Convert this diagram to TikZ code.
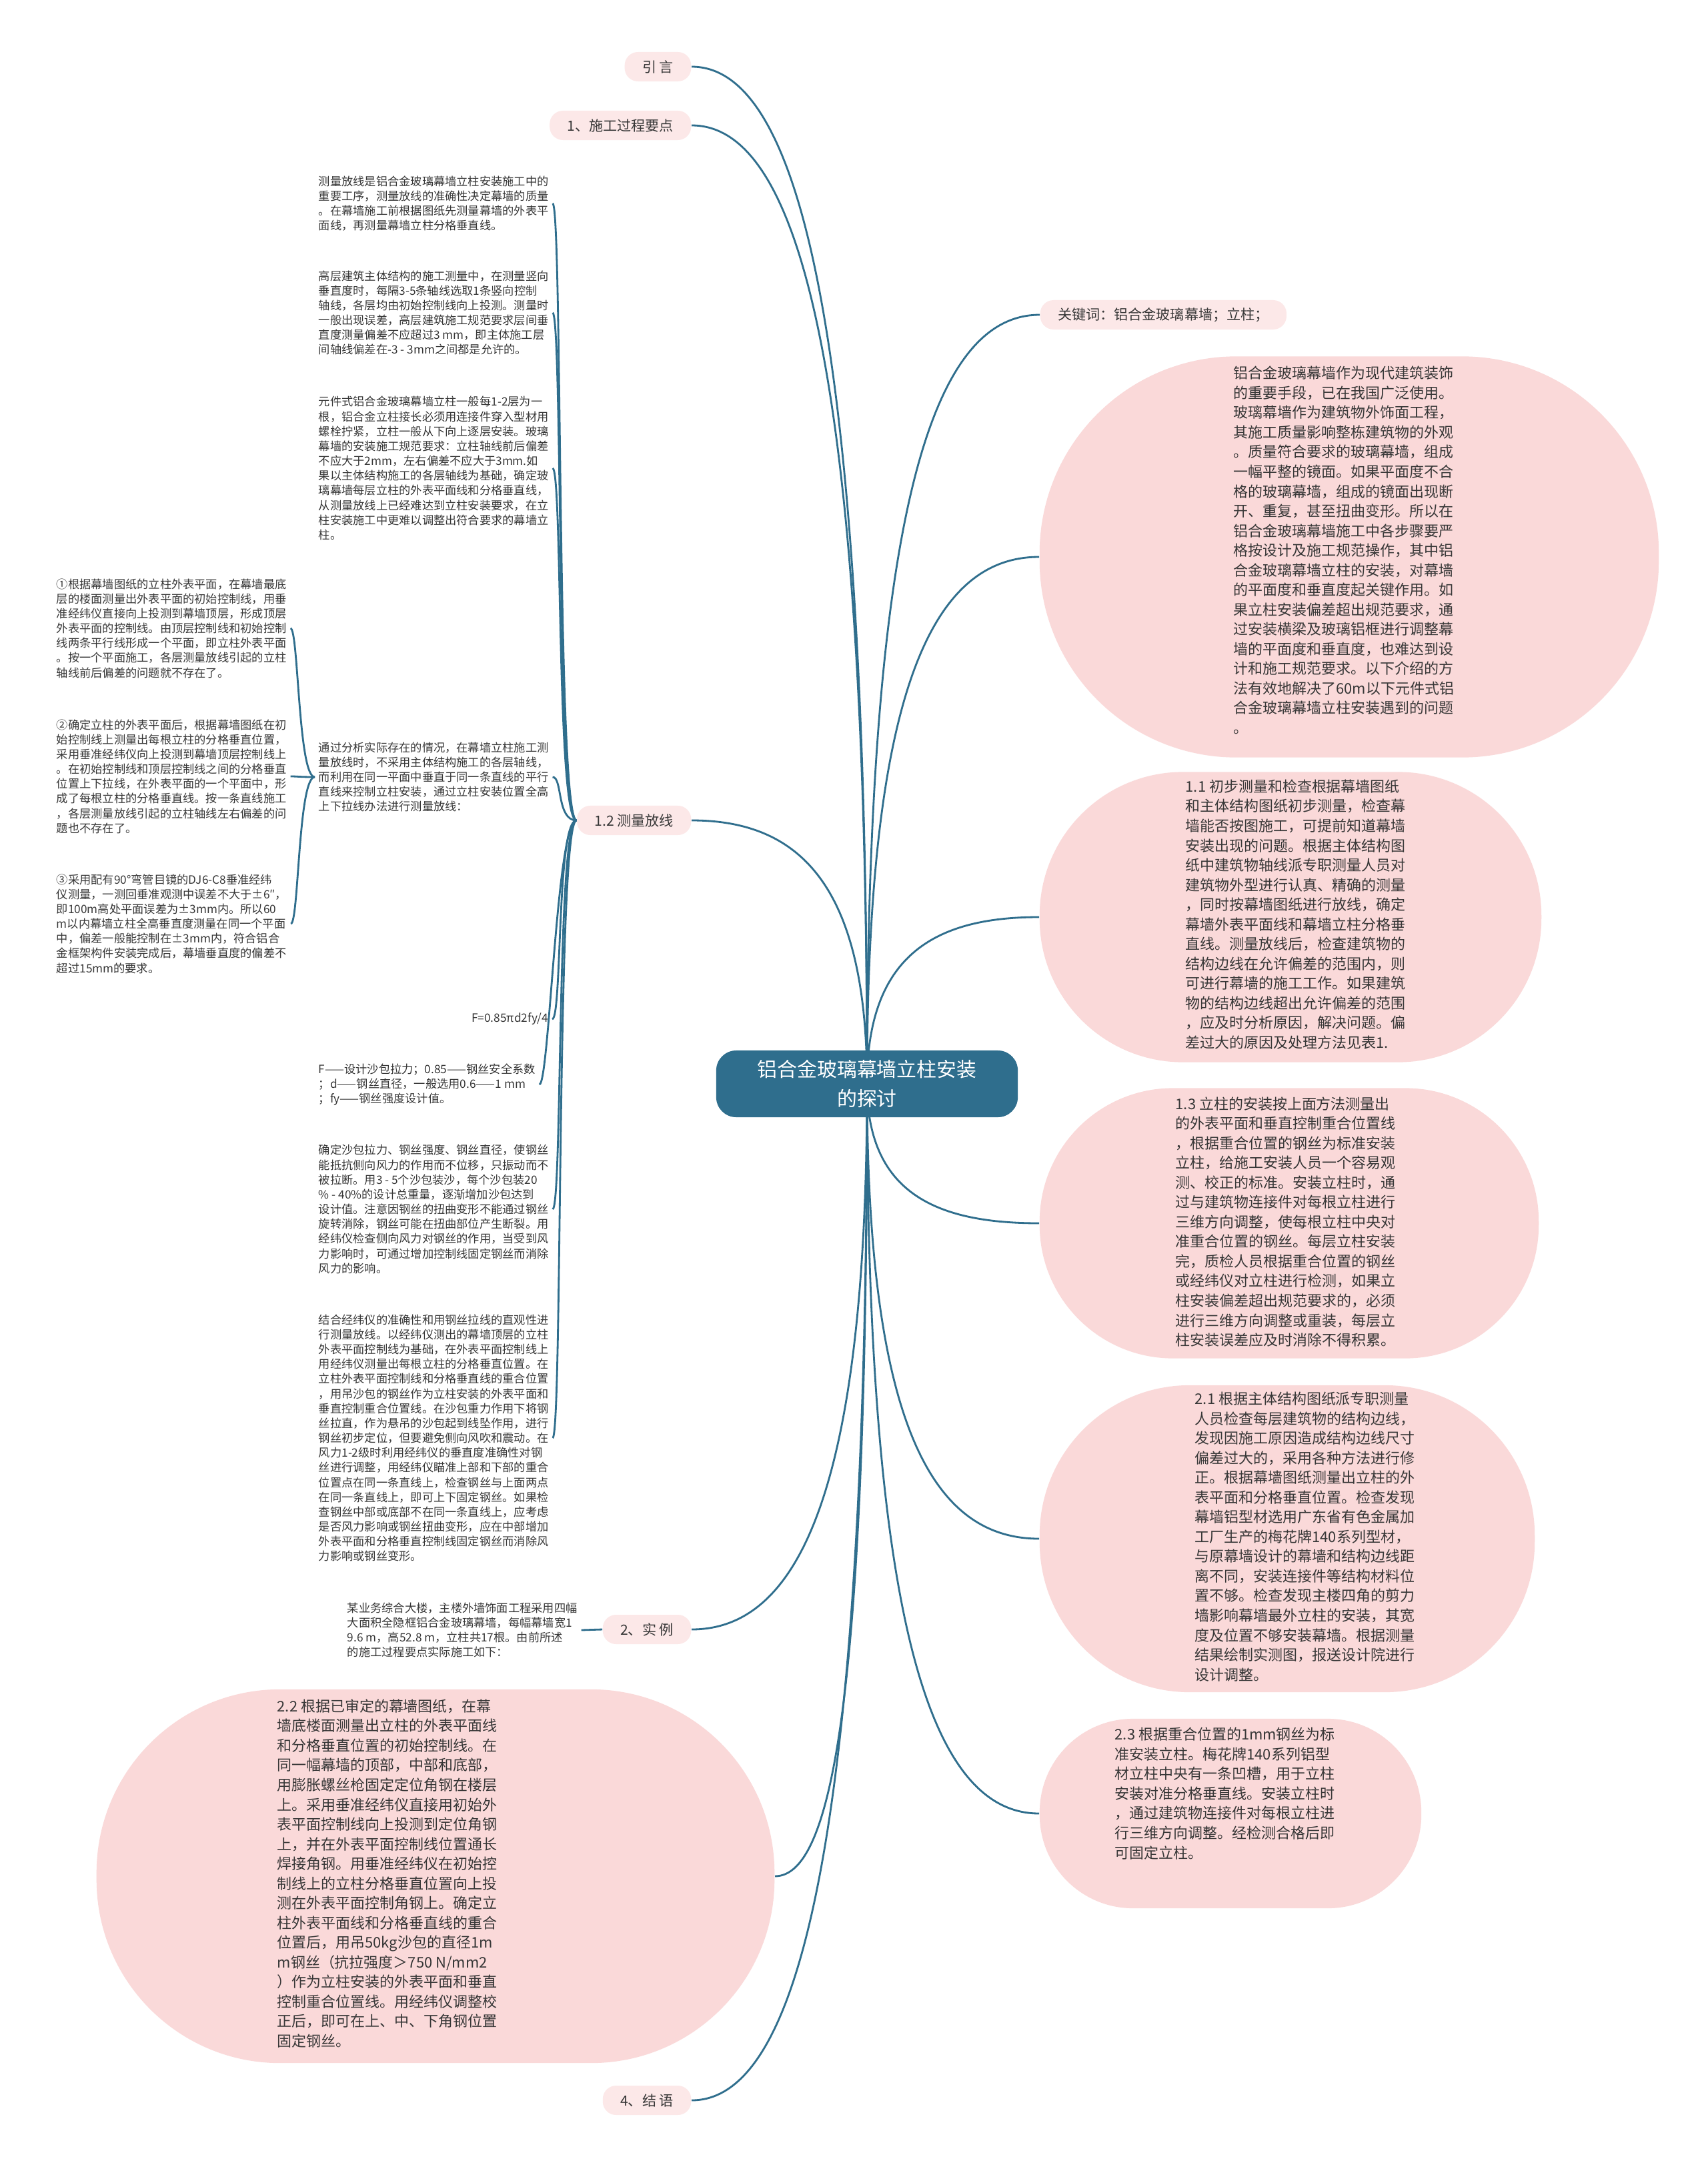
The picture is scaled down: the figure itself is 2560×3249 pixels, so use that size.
\documentclass[tikz,border=0pt]{standalone}
\usepackage{fontspec}
\setmainfont{Noto Sans CJK SC}
\usetikzlibrary{backgrounds}
\definecolor{mapblue}{RGB}{47,110,141}
\definecolor{bubblepink}{RGB}{250,217,217}
\definecolor{tagpink}{RGB}{252,232,232}
\definecolor{inkgray}{RGB}{55,55,55}
\begin{document}
\begin{tikzpicture}[x=0.01cm, y=-0.01cm, line join=round, line cap=round,
  root/.style={fill=mapblue, text=white, rounded corners=3mm, minimum width=4.52cm, minimum height=1cm, align=center, font=\fontsize{8.5pt}{12.4pt}\selectfont},
  tag/.style={fill=tagpink, text=inkgray, rounded corners=2mm, minimum height=0.44cm, inner xsep=7.5pt, inner ysep=0pt, font=\fontsize{6pt}{7pt}\selectfont},
  bubble/.style={fill=bubblepink, rounded corners=#1, inner sep=0pt},
  bubtext/.style={anchor=west, align=left, text=inkgray, inner sep=0pt, font=\fontsize{6.25pt}{8.4pt}\selectfont},
  note/.style={anchor=west, align=left, text=inkgray, inner sep=1.5pt, font=\fontsize{4.9pt}{6.3pt}\selectfont},
  link/.style={draw=mapblue, line width=0.8pt}]
\useasboundingbox (0,0) rectangle (2560,3249);
\node[root] (root) at (1300,1625) {铝合金玻璃幕墙立柱安装\\的探讨};
\node[tag, anchor=east] (yin) at (1037,100) {引 言};
\node[tag, anchor=east] (gyao) at (1037,188) {1、施工过程要点};
\node[tag, anchor=east] (celiang) at (1037,1230) {1.2 测量放线};
\node[tag, anchor=east] (shili) at (1037,2443) {2、实 例};
\node[tag, anchor=east] (jieyu) at (1037,3149) {4、结 语};
\node[tag, anchor=west] (guanjian) at (1559,472) {关键词：铝合金玻璃幕墙；立柱；};
\node[bubble=2.95cm, minimum width=9.28cm, minimum height=6.01cm] (bintro) at (2023,835) {};
\node[bubble=2.15cm, minimum width=7.52cm, minimum height=4.35cm] (b11) at (1935,1375) {};
\node[bubble=2cm, minimum width=7.48cm, minimum height=4.05cm] (b13) at (1933,1834) {};
\node[bubble=2.25cm, minimum width=7.42cm, minimum height=4.6cm] (b21) at (1930,2307) {};
\node[bubble=1.4cm, minimum width=5.72cm, minimum height=2.84cm] (b23) at (1845,2719) {};
\node[bubble=2.75cm, minimum width=10.16cm, minimum height=5.6cm] (b22) at (653,2813) {};
\node[bubtext] (tintro) at (1849,825) {铝合金玻璃幕墙作为现代建筑装饰\\
的重要手段，已在我国广泛使用。\\
玻璃幕墙作为建筑物外饰面工程，\\
其施工质量影响整栋建筑物的外观\\
。质量符合要求的玻璃幕墙，组成\\
一幅平整的镜面。如果平面度不合\\
格的玻璃幕墙，组成的镜面出现断\\
开、重复，甚至扭曲变形。所以在\\
铝合金玻璃幕墙施工中各步骤要严\\
格按设计及施工规范操作，其中铝\\
合金玻璃幕墙立柱的安装，对幕墙\\
的平面度和垂直度起关键作用。如\\
果立柱安装偏差超出规范要求，通\\
过安装横梁及玻璃铝框进行调整幕\\
墙的平面度和垂直度，也难达到设\\
计和施工规范要求。以下介绍的方\\
法有效地解决了60m以下元件式铝\\
合金玻璃幕墙立柱安装遇到的问题\\
。};
\node[bubtext] (t11) at (1777,1371) {1.1 初步测量和检查根据幕墙图纸\\
和主体结构图纸初步测量，检查幕\\
墙能否按图施工，可提前知道幕墙\\
安装出现的问题。根据主体结构图\\
纸中建筑物轴线派专职测量人员对\\
建筑物外型进行认真、精确的测量\\
，同时按幕墙图纸进行放线，确定\\
幕墙外表平面线和幕墙立柱分格垂\\
直线。测量放线后，检查建筑物的\\
结构边线在允许偏差的范围内，则\\
可进行幕墙的施工工作。如果建筑\\
物的结构边线超出允许偏差的范围\\
，应及时分析原因，解决问题。偏\\
差过大的原因及处理方法见表1.};
\node[bubtext] (t13) at (1762,1832) {1.3 立柱的安装按上面方法测量出\\
的外表平面和垂直控制重合位置线\\
，根据重合位置的钢丝为标准安装\\
立柱，给施工安装人员一个容易观\\
测、校正的标准。安装立柱时，通\\
过与建筑物连接件对每根立柱进行\\
三维方向调整，使每根立柱中央对\\
准重合位置的钢丝。每层立柱安装\\
完，质检人员根据重合位置的钢丝\\
或经纬仪对立柱进行检测，如果立\\
柱安装偏差超出规范要求的，必须\\
进行三维方向调整或重装，每层立\\
柱安装误差应及时消除不得积累。};
\node[bubtext] (t21) at (1791,2304) {2.1 根据主体结构图纸派专职测量\\
人员检查每层建筑物的结构边线，\\
发现因施工原因造成结构边线尺寸\\
偏差过大的，采用各种方法进行修\\
正。根据幕墙图纸测量出立柱的外\\
表平面和分格垂直位置。检查发现\\
幕墙铝型材选用广东省有色金属加\\
工厂生产的梅花牌140系列型材，\\
与原幕墙设计的幕墙和结构边线距\\
离不同，安装连接件等结构材料位\\
置不够。检查发现主楼四角的剪力\\
墙影响幕墙最外立柱的安装，其宽\\
度及位置不够安装幕墙。根据测量\\
结果绘制实测图，报送设计院进行\\
设计调整。};
\node[bubtext] (t23) at (1671,2689) {2.3 根据重合位置的1mm钢丝为标\\
准安装立柱。梅花牌140系列铝型\\
材立柱中央有一条凹槽，用于立柱\\
安装对准分格垂直线。安装立柱时\\
，通过建筑物连接件对每根立柱进\\
行三维方向调整。经检测合格后即\\
可固定立柱。};
\node[bubtext] (t22) at (415,2809) {2.2 根据已审定的幕墙图纸，在幕\\
墙底楼面测量出立柱的外表平面线\\
和分格垂直位置的初始控制线。在\\
同一幅幕墙的顶部，中部和底部，\\
用膨胀螺丝枪固定定位角钢在楼层\\
上。采用垂准经纬仪直接用初始外\\
表平面控制线向上投测到定位角钢\\
上，并在外表平面控制线位置通长\\
焊接角钢。用垂准经纬仪在初始控\\
制线上的立柱分格垂直位置向上投\\
测在外表平面控制角钢上。确定立\\
柱外表平面线和分格垂直线的重合\\
位置后，用吊50kg沙包的直径1m\\
m钢丝（抗拉强度＞750 N/mm2\\
）作为立柱安装的外表平面和垂直\\
控制重合位置线。用经纬仪调整校\\
正后，即可在上、中、下角钢位置\\
固定钢丝。};
\node[note] (na) at (472,305) {测量放线是铝合金玻璃幕墙立柱安装施工中的\\
重要工序，测量放线的准确性决定幕墙的质量\\
。在幕墙施工前根据图纸先测量幕墙的外表平\\
面线，再测量幕墙立柱分格垂直线。};
\node[note] (nb) at (472,469) {高层建筑主体结构的施工测量中，在测量竖向\\
垂直度时，每隔3-5条轴线选取1条竖向控制\\
轴线，各层均由初始控制线向上投测。测量时\\
一般出现误差，高层建筑施工规范要求层间垂\\
直度测量偏差不应超过3 mm，即主体施工层\\
间轴线偏差在-3 - 3mm之间都是允许的。};
\node[note] (nc) at (472,702) {元件式铝合金玻璃幕墙立柱一般每1-2层为一\\
根，铝合金立柱接长必须用连接件穿入型材用\\
螺栓拧紧，立柱一般从下向上逐层安装。玻璃\\
幕墙的安装施工规范要求：立柱轴线前后偏差\\
不应大于2mm，左右偏差不应大于3mm.如\\
果以主体结构施工的各层轴线为基础，确定玻\\
璃幕墙每层立柱的外表平面线和分格垂直线，\\
从测量放线上已经难达到立柱安装要求，在立\\
柱安装施工中更难以调整出符合要求的幕墙立\\
柱。};
\node[note] (nd) at (472,1165) {通过分析实际存在的情况，在幕墙立柱施工测\\
量放线时，不采用主体结构施工的各层轴线，\\
而利用在同一平面中垂直于同一条直线的平行\\
直线来控制立柱安装，通过立柱安装位置全高\\
上下拉线办法进行测量放线：};
\node[note] (n1) at (79,942) {①根据幕墙图纸的立柱外表平面，在幕墙最底\\
层的楼面测量出外表平面的初始控制线，用垂\\
准经纬仪直接向上投测到幕墙顶层，形成顶层\\
外表平面的控制线。由顶层控制线和初始控制\\
线两条平行线形成一个平面，即立柱外表平面\\
。按一个平面施工，各层测量放线引起的立柱\\
轴线前后偏差的问题就不存在了。};
\node[note] (n2) at (79,1164) {②确定立柱的外表平面后，根据幕墙图纸在初\\
始控制线上测量出每根立柱的分格垂直位置，\\
采用垂准经纬仪向上投测到幕墙顶层控制线上\\
。在初始控制线和顶层控制线之间的分格垂直\\
位置上下拉线，在外表平面的一个平面中，形\\
成了每根立柱的分格垂直线。按一条直线施工\\
，各层测量放线引起的立柱轴线左右偏差的问\\
题也不存在了。};
\node[note] (n3) at (79,1385) {③采用配有90°弯管目镜的DJ6-C8垂准经纬\\
仪测量，一测回垂准观测中误差不大于±6″，\\
即100m高处平面误差为±3mm内。所以60\\
m以内幕墙立柱全高垂直度测量在同一个平面\\
中，偏差一般能控制在±3mm内，符合铝合\\
金框架构件安装完成后，幕墙垂直度的偏差不\\
超过15mm的要求。};
\node[note, anchor=east] (ne) at (828,1528) {F=0.85πd2fy/4};
\node[note] (nf) at (472,1626) {F——设计沙包拉力；0.85——钢丝安全系数\\
；d——钢丝直径，一般选用0.6——1 mm\\
；fy——钢丝强度设计值。};
\node[note] (ng) at (472,1813) {确定沙包拉力、钢丝强度、钢丝直径，使钢丝\\
能抵抗侧向风力的作用而不位移，只振动而不\\
被拉断。用3 - 5个沙包装沙，每个沙包装20\\
\% - 40\%的设计总重量，逐渐增加沙包达到\\
设计值。注意因钢丝的扭曲变形不能通过钢丝\\
旋转消除，钢丝可能在扭曲部位产生断裂。用\\
经纬仪检查侧向风力对钢丝的作用，当受到风\\
力影响时，可通过增加控制线固定钢丝而消除\\
风力的影响。};
\node[note] (nh) at (472,2156) {结合经纬仪的准确性和用钢丝拉线的直观性进\\
行测量放线。以经纬仪测出的幕墙顶层的立柱\\
外表平面控制线为基础，在外表平面控制线上\\
用经纬仪测量出每根立柱的分格垂直位置。在\\
立柱外表平面控制线和分格垂直线的重合位置\\
，用吊沙包的钢丝作为立柱安装的外表平面和\\
垂直控制重合位置线。在沙包重力作用下将钢\\
丝拉直，作为悬吊的沙包起到线坠作用，进行\\
钢丝初步定位，但要避免侧向风吹和震动。在\\
风力1-2级时利用经纬仪的垂直度准确性对钢\\
丝进行调整，用经纬仪瞄准上部和下部的重合\\
位置点在同一条直线上，检查钢丝与上面两点\\
在同一条直线上，即可上下固定钢丝。如果检\\
查钢丝中部或底部不在同一条直线上，应考虑\\
是否风力影响或钢丝扭曲变形，应在中部增加\\
外表平面和分格垂直控制线固定钢丝而消除风\\
力影响或钢丝变形。};
\node[note] (ni) at (515,2444) {某业务综合大楼，主楼外墙饰面工程采用四幅\\
大面积全隐框铝合金玻璃幕墙，每幅幕墙宽1\\
9.6 m，高52.8 m，立柱共17根。由前所述\\
的施工过程要点实际施工如下：};
\begin{scope}[on background layer]
\fill[white] (0,0) rectangle (2560,3249);
\draw[link] (root.center) .. controls +(0,-1140) and +(160,0) .. (yin.east);
\draw[link] (root.center) .. controls +(0,-1080) and +(160,0) .. (gyao.east);
\draw[link] (root.center) .. controls +(0,-300) and +(160,0) .. (celiang.east);
\draw[link] (root.center) .. controls +(0,610) and +(160,0) .. (shili.east);
\draw[link] (root.center) .. controls +(0,1140) and +(160,0) .. (jieyu.east);
\draw[link] (root.center) .. controls +(0,890) and +(90,0) .. (b22.east);
\draw[link] (root.center) .. controls +(0,-865) and +(-160,0) .. (guanjian.west);
\draw[link] (root.center) .. controls +(0,-590) and +(-160,0) .. (bintro.west);
\draw[link] (root.center) .. controls +(0,-190) and +(-160,0) .. (b11.west);
\draw[link] (root.center) .. controls +(0,160) and +(-160,0) .. (b13.west);
\draw[link] (root.center) .. controls +(0,510) and +(-160,0) .. (b21.west);
\draw[link] (root.center) .. controls +(0,820) and +(-160,0) .. (b23.west);
\foreach \n in {na,nb,nc,nd,ne,nf,ng,nh}
  \draw[link] (celiang.west) .. controls +(-30,0) and +(15,0) .. (\n.east);
\foreach \n in {n1,n2,n3}
  \draw[link] (nd.west) .. controls +(-25,0) and +(12,0) .. (\n.east);
\draw[link] (shili.west) -- (ni.east);
\end{scope}
\end{tikzpicture}
\end{document}
